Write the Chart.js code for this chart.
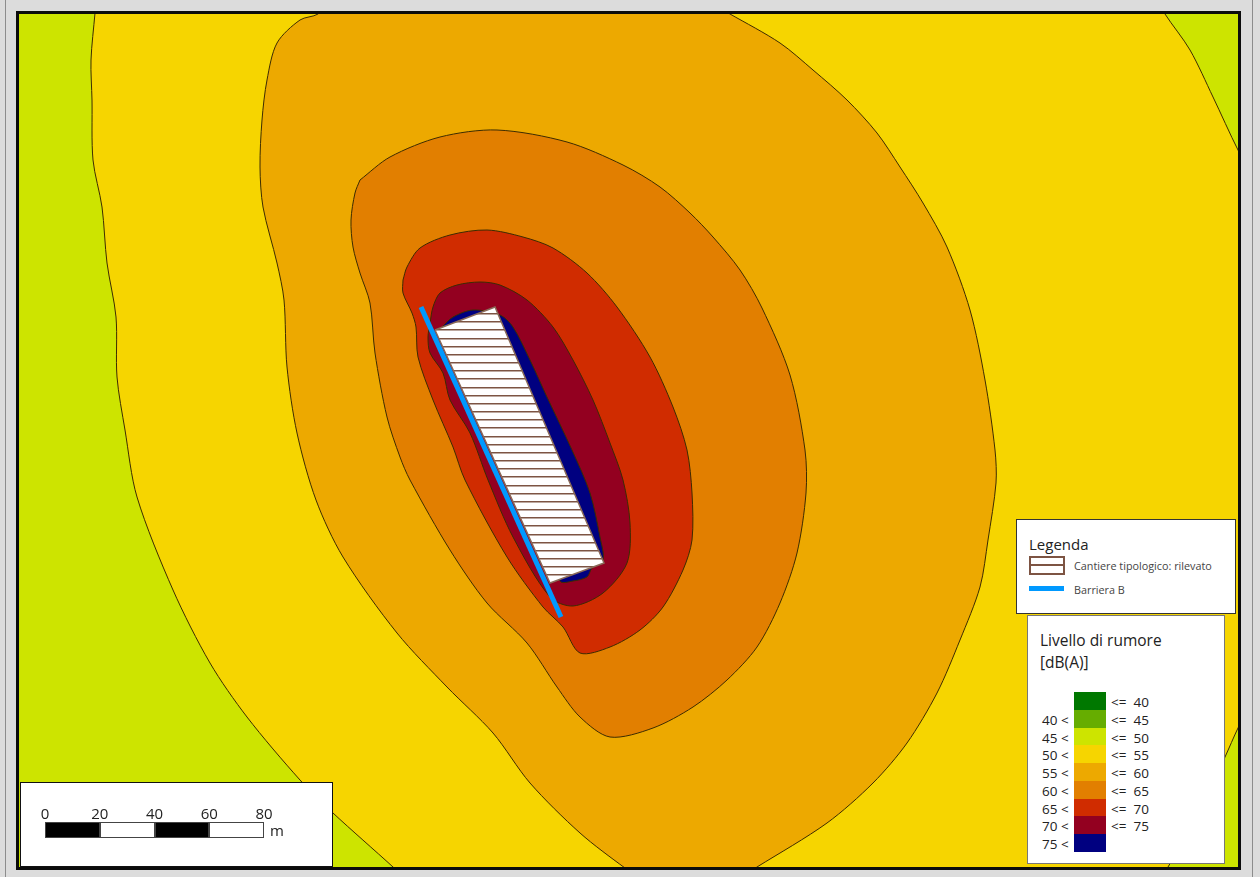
<!DOCTYPE html>
<html>
<head>
<meta charset="utf-8">
<title>Livello di rumore</title>
<script src="https://cdn.jsdelivr.net/npm/chart.js@4"></script>
<style>
  html, body { margin: 0; padding: 0; background: #dcdcdc; }
  body { width: 1260px; height: 877px; position: relative; overflow: hidden; font-family: "Open Sans", sans-serif; color: #222; }
  .edge { position: absolute; background: #8c8c8c; }
  #map { position: absolute; left: 19px; top: 14px; width: 1219px; height: 853px; outline: 3px solid #0c0c0c; }
  .box { position: absolute; background: #fff; box-sizing: border-box; border: 1px solid #333; }
  .txt { position: absolute; white-space: pre; line-height: 1; }
  .sw { position: absolute; box-sizing: border-box; }
</style>
</head>
<body>
<div class="edge" style="left:5px;top:0;width:1px;height:877px"></div>
<div class="edge" style="left:1252px;top:0;width:1px;height:877px"></div>
<div id="map"><canvas id="mapChart" width="1219" height="853"></canvas></div>
<div id="overlay"></div>

<script>
/* ── Data: contour outlines (map x, y) ──────────────────────────── */

const mapX = [19, 1238];
const mapY = [14, 867];

const zone50 = [[0, 0], [1260, 0], [1260, 877], [0, 877]];

const green50Left = [[96, 0], [95, 13], [91, 60], [92, 100], [93, 160], [102, 207], [107, 263], [116, 317], [117, 377],
  [125, 430], [137, 497], [173, 590], [210, 663], [247, 717], [300, 780], [333, 813], [393, 867], [403, 877],
  [0, 877], [0, 0]];
const green50TopRight = [[1158, 0], [1165, 14], [1190, 50], [1213, 97], [1238, 150], [1260, 190], [1260, 0]];
const green50BottomRight = [[1250, 705], [1238, 728], [1225, 757], [1200, 810], [1168, 867], [1160, 877], [1260, 877]];

const zone55 = [[330, 0], [318, 14], [300, 20], [277, 43], [267, 80], [262, 120], [260, 167], [263, 207], [277, 263],
  [284, 300], [287, 367], [297, 433], [316, 500], [343, 557], [397, 633], [447, 687], [493, 733], [530, 783],
  [580, 833], [625, 868], [640, 877], [740, 877], [757, 867], [827, 823], [873, 783], [907, 743], [937, 693],
  [960, 640], [980, 587], [988, 540], [996, 483], [995, 450], [985, 380], [970, 310], [947, 247], [923, 203],
  [900, 167], [877, 133], [847, 100], [813, 70], [780, 43], [730, 14], [705, 0]];

const zone60 = [[360, 180], [355, 193], [351, 220], [353, 247], [360, 273], [370, 303], [375, 353], [387, 417],
  [400, 457], [410, 480], [450, 550], [487, 603], [527, 643], [557, 687], [580, 717], [610, 737], [653, 728],
  [693, 707], [727, 680], [757, 647], [780, 603], [797, 553], [806, 493], [805, 450], [790, 375], [762, 308],
  [740, 270], [713, 237], [690, 213], [660, 187], [623, 165], [567, 142], [497, 130], [440, 137], [390, 157]];

const zone65 = [[403, 280], [407, 267], [420, 248], [450, 235], [487, 230], [523, 237], [553, 248], [587, 273],
  [617, 307], [650, 357], [673, 407], [687, 450], [692, 493], [692, 540], [683, 570], [663, 607], [640, 630],
  [610, 647], [580, 653], [563, 627], [543, 607], [507, 557], [465, 480], [453, 447], [433, 400], [418, 357],
  [416, 327], [412, 313], [403, 293]];

const zone70 = [[430, 323], [433, 307], [440, 293], [457, 285], [480, 282], [500, 285], [527, 300], [553, 327],
  [573, 360], [593, 400], [610, 443], [623, 480], [630, 523], [627, 563], [603, 593], [573, 606], [550, 597],
  [513, 537], [488, 480], [470, 433], [450, 400], [443, 373], [430, 353], [428, 337]];

const zone75 = [[442, 327], [453, 317], [473, 310], [500, 315], [513, 327], [530, 360], [547, 397], [572, 450],
  [590, 493], [600, 537], [603, 560], [592, 568], [587, 577], [573, 581], [560, 581], [500, 450]];

const siteOutline = [[435, 330], [495, 307], [604, 563], [550, 583]];
const barrierLine = [[421, 307], [561, 617]];

/* ── Data: legend ───────────────────────────────────────────────── */

const legendColors = ["#007800", "#66ad00", "#cde400", "#f6d500", "#eda900", "#e27f00", "#d02c00", "#930020", "#000080"];
const lowerLabels = ["", "40 <", "45 <", "50 <", "55 <", "60 <", "65 <", "70 <", "75 <"];
const upperLabels = ["<=  40", "<=  45", "<=  50", "<=  55", "<=  60", "<=  65", "<=  70", "<=  75", ""];
const scaleTicks = [0, 20, 40, 60, 80];

const hatchColor = "#7d5443";
const barrierColor = "#0099ff";

/* ── Chart ──────────────────────────────────────────────────────── */

function toPoints(list) {
  return list.map(p => ({ x: p[0], y: p[1] }));
}

function zone(list, fillColor, lineColor) {
  return {
    data: toPoints(list.concat([list[0]])),
    backgroundColor: fillColor,
    borderColor: lineColor || "#3d2c00",
    borderWidth: lineColor === "transparent" ? 0 : 1,
    fill: "shape",
    showLine: true,
    tension: 0.3,
    pointRadius: 0,
  };
}

// Horizontal hatching of the site, one line every 8.17 px
function hatchPattern() {
  const tile = document.createElement("canvas");
  tile.width = 4;
  tile.height = 49;
  const c = tile.getContext("2d");
  c.fillStyle = "#ffffff";
  c.fillRect(0, 0, 4, 49);
  c.fillStyle = hatchColor;
  for (let k = 0; k < 6; k++) c.fillRect(0, 5 + Math.round(k * 49 / 6), 4, 1.5);
  return c.createPattern(tile, "repeat");
}

const site = zone(siteOutline, hatchPattern(), "#8a6a58");
site.tension = 0;
site.borderWidth = 1.5;

// Bottom layer first, the array is reversed because Chart.js paints dataset 0 last
const layers = [
  zone(zone50, legendColors[3], "transparent"),
  zone(green50Left, legendColors[2]),
  zone(green50TopRight, legendColors[2]),
  zone(green50BottomRight, legendColors[2]),
  zone(zone55, legendColors[4]),
  zone(zone60, legendColors[5]),
  zone(zone65, legendColors[6]),
  zone(zone70, legendColors[7]),
  zone(zone75, legendColors[8]),
  site,
  {
    data: toPoints(barrierLine),
    borderColor: barrierColor,
    borderWidth: 5,
    borderCapStyle: "butt",
    showLine: true,
    fill: false,
    pointRadius: 0,
  },
];

new Chart(document.getElementById("mapChart"), {
  type: "scatter",
  data: { datasets: layers.reverse() },
  options: {
    responsive: false,
    animation: false,
    devicePixelRatio: 1,
    events: [],
    layout: { padding: 0 },
    plugins: { legend: { display: false }, tooltip: { enabled: false } },
    scales: {
      x: { type: "linear", display: false, min: mapX[0], max: mapX[1] },
      y: { type: "linear", display: false, min: mapY[0], max: mapY[1], reverse: true },
    },
  },
});

/* ── Legend boxes and scale bar ─────────────────────────────────── */

const overlay = document.getElementById("overlay");

function addBox(x, y, w, h, bg, cls, extra) {
  const el = document.createElement("div");
  el.className = cls;
  el.style.cssText = `left:${x}px;top:${y}px;width:${w}px;height:${h}px;background:${bg};${extra || ""}`;
  overlay.appendChild(el);
  return el;
}

function addText(str, x, y, size, extra) {
  const el = document.createElement("div");
  el.className = "txt";
  el.textContent = str;
  el.style.cssText = `left:${x}px;top:${y}px;font-size:${size}px;${extra || ""}`;
  overlay.appendChild(el);
  return el;
}

// Site / barrier legend
addBox(1016, 519, 220, 95, "#fff", "box");
addText("Legenda", 1029, 537, 15);
addBox(1029, 556, 36, 19, "#fff", "sw", "border:2px solid " + hatchColor);
addBox(1029, 564, 36, 2, hatchColor, "sw");
addText("Cantiere tipologico: rilevato", 1074, 561, 10.8, "color:#444");
addBox(1029, 586, 35, 5, barrierColor, "sw");
addText("Barriera B", 1074, 585, 10.8, "color:#444");

// Noise level legend
addBox(1027, 615, 198, 249, "#fff", "box", "border-color:#777");
addText("Livello di rumore", 1040, 633, 15.5);
addText("[dB(A)]", 1040, 655, 15.5);
legendColors.forEach((col, i) => {
  const top = 692 + i * 17.75;
  addBox(1074, top, 32, 17.75, col, "sw");
  if (lowerLabels[i]) addText(lowerLabels[i], 1042, top + 4, 13.5);
  if (upperLabels[i]) addText(upperLabels[i], 1111, top + 4, 13.5);
});

// Scale bar, 20 m segments
const barLeft = 45, barStep = 54.75;
addBox(20, 782, 313, 85, "#fff", "box", "border-color:#111");
scaleTicks.forEach((t, i) => {
  addText(String(t), barLeft + i * barStep, 806, 15, "transform:translateX(-50%)");
  if (i < scaleTicks.length - 1) {
    addBox(barLeft + i * barStep, 822, barStep, 16, i % 2 === 0 ? "#000" : "#fff", "sw", "border:1px solid #444");
  }
});
addText("m", 270, 823, 15);
</script>
</body>
</html>
